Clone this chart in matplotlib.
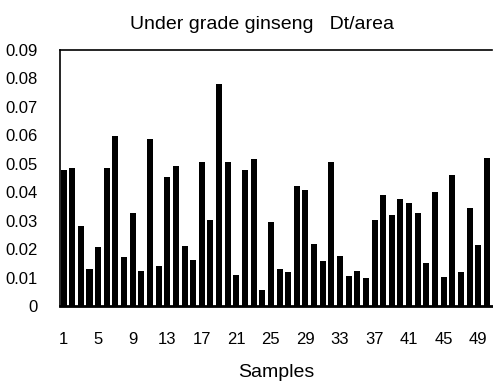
import matplotlib.pyplot as plt
import numpy as np

plt.rcParams['font.family'] = ['Liberation Sans', 'DejaVu Sans']

samples = np.arange(1, 51)
dt_area = [0.0477, 0.0483, 0.0281, 0.0129, 0.0208, 0.0483, 0.0596, 0.0173, 0.0325, 0.0123,
           0.0587, 0.0140, 0.0453, 0.0491, 0.0210, 0.0160, 0.0506, 0.0302, 0.0781, 0.0507,
           0.0110, 0.0477, 0.0517, 0.0056, 0.0295, 0.0129, 0.0119, 0.0423, 0.0407, 0.0218,
           0.0157, 0.0505, 0.0175, 0.0105, 0.0124, 0.0097, 0.0302, 0.0388, 0.0320, 0.0377,
           0.0363, 0.0328, 0.0152, 0.0400, 0.0101, 0.0461, 0.0119, 0.0345, 0.0213, 0.0519]
y_ticks = [0, 0.01, 0.02, 0.03, 0.04, 0.05, 0.06, 0.07, 0.08, 0.09]
y_labels = ['0', '0.01', '0.02', '0.03', '0.04', '0.05', '0.06', '0.07', '0.08', '0.09']
x_ticks = list(range(1, 51, 4))

fig = plt.figure(figsize=(4.93, 3.82), dpi=100)
ax = fig.add_axes([0.122, 0.199, 0.876, 0.671])

ax.bar(samples, dt_area, width=0.7, color='black')

ax.set_xlim(0.6, 50.6)
ax.set_ylim(0, 0.09)
ax.set_yticks(y_ticks)
ax.set_yticklabels(y_labels, fontsize=12)
ax.set_xticks(x_ticks)
ax.set_xticklabels([str(t) for t in x_ticks], fontsize=12)
ax.tick_params(axis='x', length=0, pad=19)
ax.tick_params(axis='y', length=0, pad=16)

for side in ['left', 'top']:
    ax.spines[side].set_linewidth(1.2)
ax.spines['right'].set_visible(False)
ax.spines['bottom'].set_linewidth(2)

# title sits a bit left of the axes centre
ax.set_title('Under grade ginseng   Dt/area', fontsize=14, pad=15, x=0.467)
ax.set_xlabel('Samples', fontsize=14, labelpad=12)

fig.savefig('out.png', dpi=100)
